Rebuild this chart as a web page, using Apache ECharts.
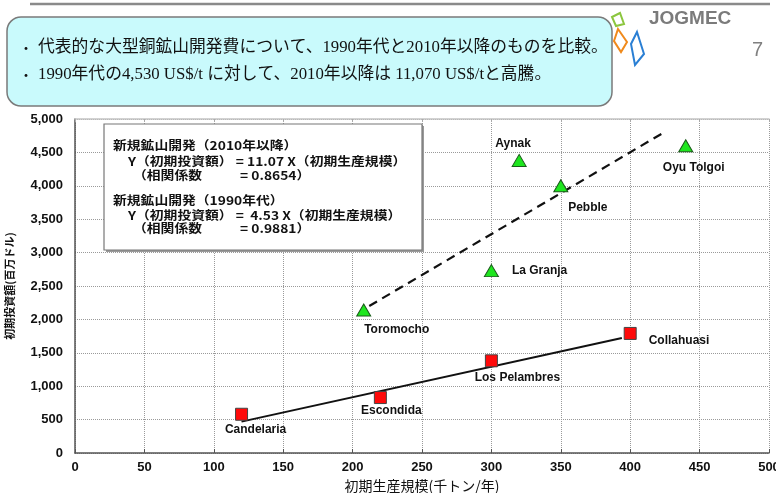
<!DOCTYPE html>
<html>
<head>
<meta charset="utf-8">
<script src="https://cdn.jsdelivr.net/npm/echarts@6/dist/echarts.min.js"></script>
<style>
html,body{margin:0;padding:0;background:#fff;}
#c{width:776px;height:493px;}
</style>
</head>
<body>
<div id="c"></div>
<script>
// ---- data ----
const mines2010 = ['Toromocho', 'La Granja', 'Aynak', 'Pebble', 'Oyu Tolgoi'];
const prod2010 = [208, 300, 320, 350, 440];
const capex2010 = [2140, 2730, 4380, 4000, 4600];

const mines1990 = ['Candelaria', 'Escondida', 'Los Pelambres', 'Collahuasi'];
const prod1990 = [120, 220, 300, 400];
const capex1990 = [580, 830, 1380, 1790];

const trend2010X = [212, 426];
const trend2010Y = [2200, 4820];
const trend1990X = [120, 394];
const trend1990Y = [470, 1722];

const xTicks = [0, 500, 50];
const yTicks = [0, 5000, 500];

const headerLines = [
  '代表的な大型銅鉱山開発費について、1990年代と2010年以降のものを比較。',
  '1990年代の4,530 US$/t に対して、2010年以降は 11,070 US$/tと高騰。'
];
const noteLines = [
  '新規鉱山開発（2010年以降）',
  'Y（初期投資額） = 11.07 X（初期生産規模）',
  '（相関係数',
  '= 0.8654）',
  '新規鉱山開発（1990年代）',
  'Y（初期投資額） =  4.53 X（初期生産規模）',
  '（相関係数',
  '= 0.9881）'
];
const xName = '初期生産規模(千トン/年)';
const yName = '初期投資額(百万ドル)';

// ---- label placement (style) ----
const labelPlace = {
  'Aynak': {position: 'top', offset: [-6, 0]},
  'Oyu Tolgoi': {position: 'bottom', offset: [8, 6]},
  'Pebble': {position: 'bottom', offset: [27, 5]},
  'La Granja': {position: 'right', offset: [9, 0]},
  'Toromocho': {position: 'bottom', offset: [33, 3]},
  'Collahuasi': {position: 'right', offset: [8, 7]},
  'Los Pelambres': {position: 'bottom', offset: [26, 0]},
  'Escondida': {position: 'bottom', offset: [11, -3]},
  'Candelaria': {position: 'bottom', offset: [14, -1]}
};

function pts(names, xs, ys) {
  return names.map((n, i) => ({
    name: n,
    value: [xs[i], ys[i]],
    label: Object.assign({show: true}, labelPlace[n])
  }));
}
function line(xs, ys) { return xs.map((x, i) => [x, ys[i]]); }

const latin = "'Liberation Sans', Arial, sans-serif";
const jp = "'Noto Sans CJK JP', sans-serif";
const labelStyle = {fontFamily: latin, fontWeight: 'bold', fontSize: 12, color: '#111', distance: 4, formatter: p => p.name};

const chart = echarts.init(document.getElementById('c'), null, {renderer: 'canvas'});

const noteFont = "bold 12px 'Noto Sans CJK JP', sans-serif";
function note(x, y, t) {
  return {type: 'text', x: x, y: y, z: 11, scaleX: 1.15,
    style: {text: t, font: noteFont, fill: '#111', verticalAlign: 'middle'}};
}
const option = {
  backgroundColor: '#fff',
  animation: false,
  grid: {left: 75, right: 7, top: 119, bottom: 40, containLabel: false, outerBoundsMode: 'none'},
  xAxis: [{
    type: 'value', min: xTicks[0], max: xTicks[1], interval: xTicks[2],
    name: xName, nameLocation: 'middle', nameGap: 26,
    nameTextStyle: {fontFamily: jp, fontSize: 14, color: '#111'},
    axisLine: {lineStyle: {color: '#555', width: 1.5}},
    axisTick: {show: true, inside: true, length: 4, lineStyle: {color: '#555'}},
    axisLabel: {fontFamily: latin, fontWeight: 'bold', fontSize: 13, color: '#111', margin: 8},
    splitLine: {show: true, lineStyle: {color: '#9a9a9a', type: 'dotted', width: 1}}
  }, {
    type: 'value', position: 'top', min: xTicks[0], max: xTicks[1], interval: xTicks[2],
    axisLine: {show: true, lineStyle: {color: '#c4c4c4', width: 1.5}},
    axisTick: {show: true, inside: true, length: 3, lineStyle: {color: '#aaa'}},
    axisLabel: {show: false}, splitLine: {show: false}
  }],
  yAxis: {
    type: 'value', min: yTicks[0], max: yTicks[1], interval: yTicks[2],
    name: yName, nameLocation: 'middle', nameGap: 60, nameRotate: 90,
    nameTextStyle: {fontFamily: jp, fontSize: 11, fontWeight: 'bold', color: '#111'},
    axisLine: {show: true, lineStyle: {color: '#555', width: 1.5}},
    axisTick: {show: false},
    axisLabel: {fontFamily: latin, fontWeight: 'bold', fontSize: 13, color: '#111', margin: 12,
      formatter: v => v.toLocaleString('en-US')},
    splitLine: {show: true, lineStyle: {color: '#9a9a9a', type: 'dotted', width: 1}}
  },
  series: [
    {
      type: 'line', data: line(trend2010X, trend2010Y), symbol: 'none', z: 3,
      lineStyle: {color: '#111', width: 2.2, type: [9, 6]}
    },
    {
      type: 'line', data: line(trend1990X, trend1990Y), symbol: 'none', z: 3,
      lineStyle: {color: '#111', width: 2}
    },
    {
      type: 'scatter', data: pts(mines2010, prod2010, capex2010), z: 4,
      symbol: 'triangle', symbolSize: [14, 12],
      itemStyle: {color: '#1ee61e', borderColor: '#1a5a1a', borderWidth: 1, opacity: 1},
      label: labelStyle
    },
    {
      type: 'scatter', data: pts(mines1990, prod1990, capex1990), z: 4,
      symbol: 'rect', symbolSize: 12,
      itemStyle: {color: '#ff0a0a', borderColor: '#444', borderWidth: 1, opacity: 1},
      label: labelStyle
    }
  ],
  graphic: [
    {type: 'line', shape: {x1: 30, y1: 4, x2: 770, y2: 4}, style: {stroke: '#8a8a8a', lineWidth: 2.5}},
    {type: 'rect', shape: {x: 7, y: 17, width: 605, height: 89, r: 14},
      style: {fill: '#c9fafc', stroke: '#7a7a7a', lineWidth: 1.5}},
    {type: 'text', x: 19, y: 48, style: {text: '・', font: "14px 'Noto Sans CJK JP'", fill: '#111', verticalAlign: 'middle'}},
    {type: 'text', x: 19, y: 75, style: {text: '・', font: "14px 'Noto Sans CJK JP'", fill: '#111', verticalAlign: 'middle'}},
    {type: 'text', x: 38, y: 48, style: {text: headerLines[0], font: "16.8px 'Liberation Serif', 'Noto Sans CJK JP', serif", fill: '#111', verticalAlign: 'middle'}},
    {type: 'text', x: 38, y: 75, style: {text: headerLines[1], font: "16.8px 'Liberation Serif', 'Noto Sans CJK JP', serif", fill: '#111', verticalAlign: 'middle'}},
    {type: 'text', x: 649, y: 19, style: {text: 'JOGMEC', font: "bold 19px 'Liberation Sans', Arial", fill: '#7b7b7b', verticalAlign: 'middle'}},
    {type: 'text', x: 752, y: 50, style: {text: '7', font: "20px 'Liberation Sans', Arial", fill: '#808080', verticalAlign: 'middle'}},
    {type: 'polygon', shape: {points: [[612, 17], [620, 13], [624, 24], [616, 26]]}, style: {fill: 'none', stroke: '#8cc63f', lineWidth: 2}},
    {type: 'polygon', shape: {points: [[618, 29], [627, 42], [621, 52], [614, 41]]}, style: {fill: 'none', stroke: '#f08a1c', lineWidth: 2}},
    {type: 'polygon', shape: {points: [[637, 32], [644, 54], [635, 65], [631, 44]]}, style: {fill: 'none', stroke: '#2a7fd4', lineWidth: 2}},
    {type: 'rect', shape: {x: 106, y: 126, width: 318, height: 126}, style: {fill: '#9a9a9a'}, z: 10},
    {type: 'rect', shape: {x: 104, y: 124, width: 318, height: 126}, style: {fill: '#fff', stroke: '#777', lineWidth: 1.2}, z: 10},
    note(113, 145, noteLines[0]),
    note(128, 161, noteLines[1]),
    note(133, 175, noteLines[2]),
    note(240, 175, noteLines[3]),
    note(113, 200, noteLines[4]),
    note(128, 215, noteLines[5]),
    note(133, 228, noteLines[6]),
    note(240, 228, noteLines[7])
  ]
};
chart.setOption(option);
</script>
</body>
</html>
